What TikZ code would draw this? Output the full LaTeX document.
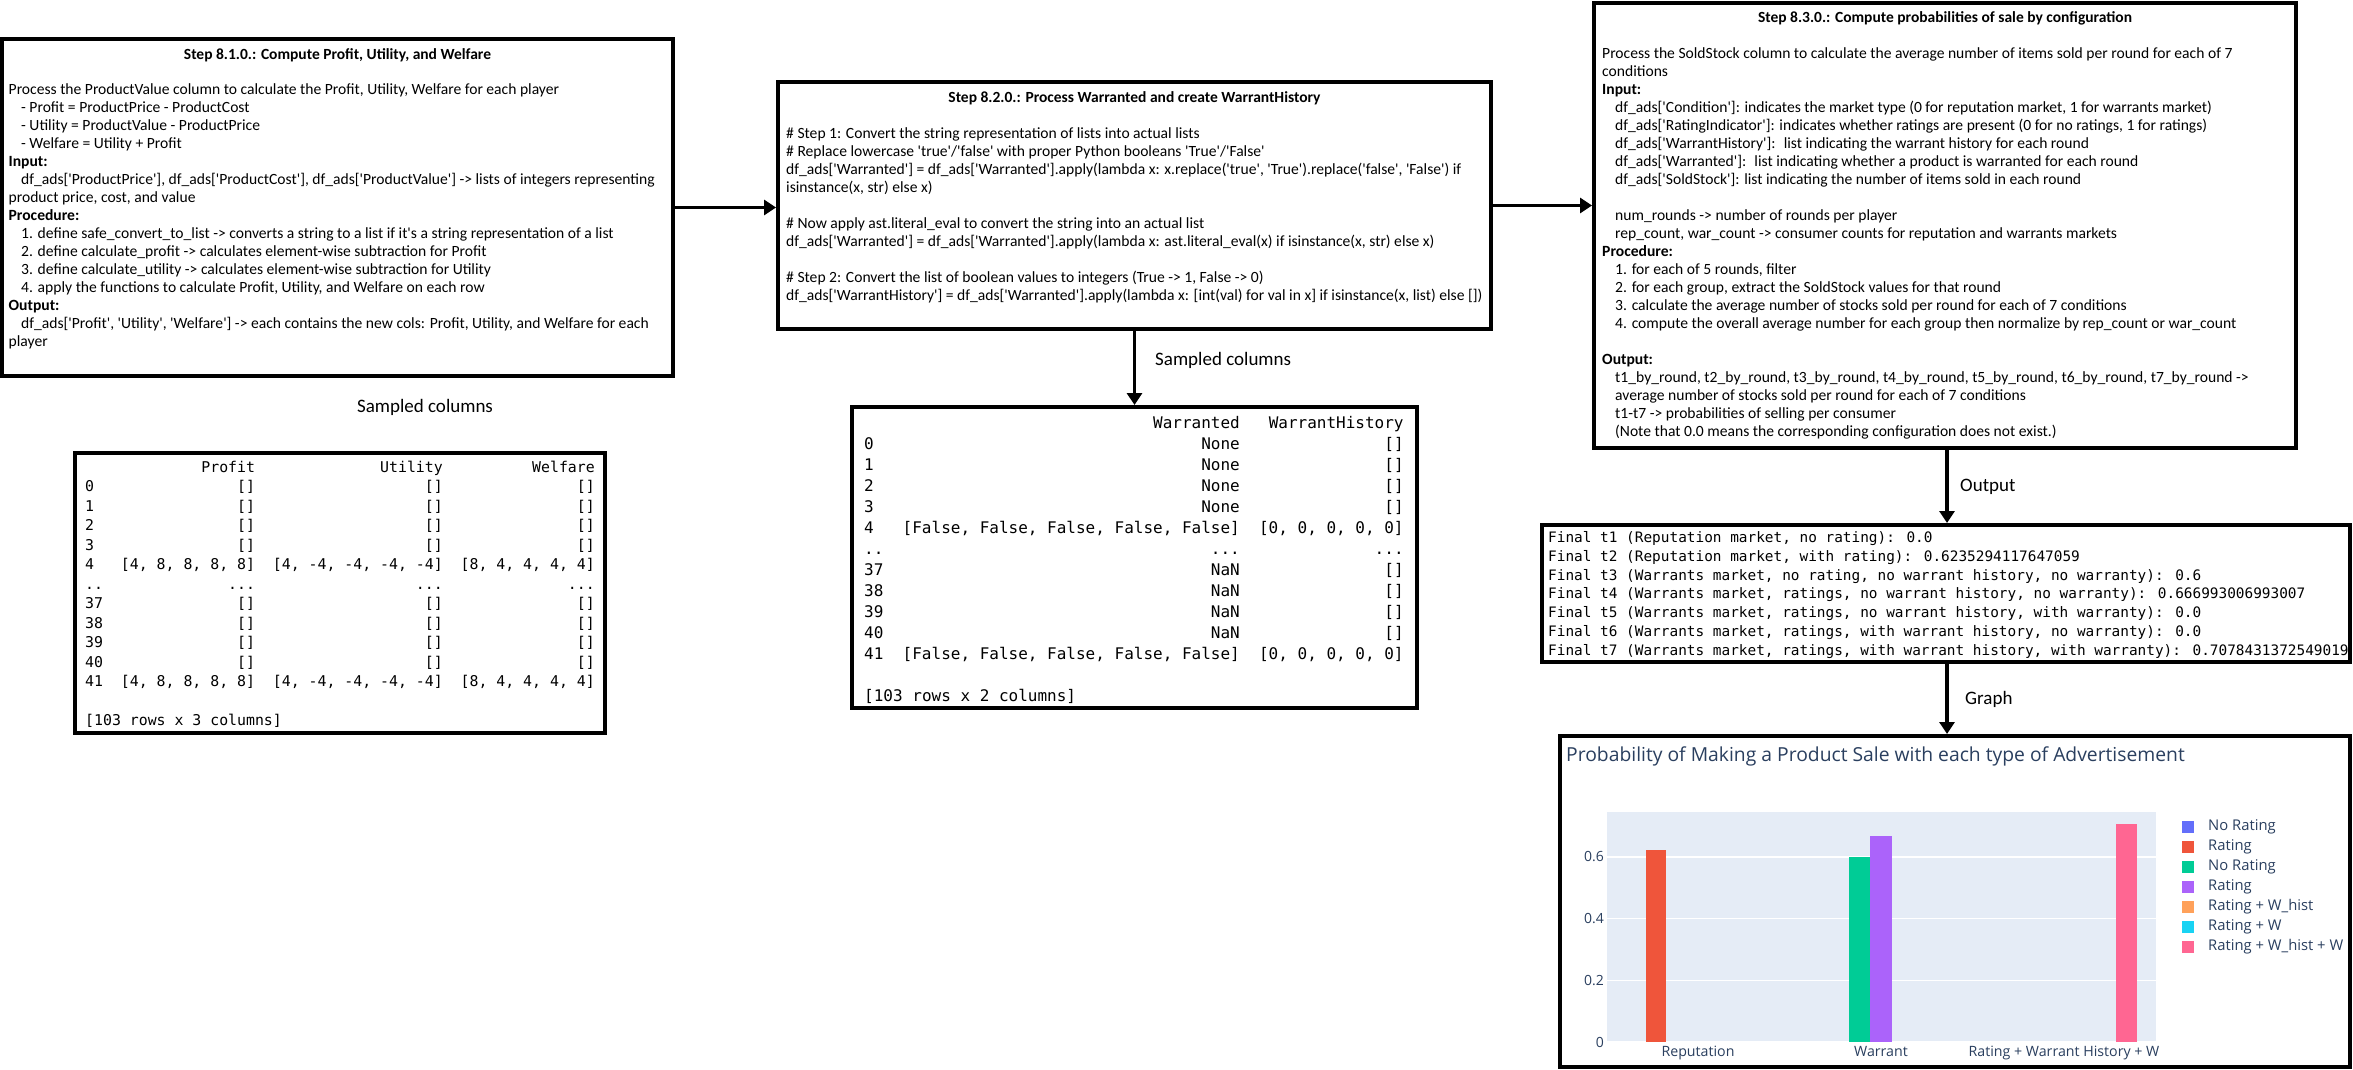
\documentclass[tikz,border=0pt]{standalone}
\usepackage{fontspec}
\setmainfont{Carlito}
\newfontfamily\boxfont{Carlito}
\newfontfamily\monofont{DejaVu Sans Mono}
\newfontfamily\plotfont{Open Sans}
\usetikzlibrary{arrows.meta}
\definecolor{plotbg}{HTML}{E5ECF6}
\definecolor{plottxt}{HTML}{2A3F5F}
\definecolor{cblue}{HTML}{636EFA}
\definecolor{cred}{HTML}{EF553B}
\definecolor{cgreen}{HTML}{00CC96}
\definecolor{cpurple}{HTML}{AB63FA}
\definecolor{corange}{HTML}{FFA15A}
\definecolor{ccyan}{HTML}{19D3F3}
\definecolor{cpink}{HTML}{FF6692}
\newcommand\sq{\textquotesingle}
\tikzset{
  box/.style={draw=black, line width=4pt, rectangle, inner sep=0pt},
  boxtitle/.style={anchor=base, inner sep=0pt, font=\boxfont\bfseries\fontsize{15.5}{18}\selectfont},
  boxbody/.style={anchor=base west, inner sep=0pt, font=\boxfont\fontsize{15.6}{18}\selectfont},
  lbl/.style={inner sep=0pt, font=\boxfont\fontsize{19}{22}\selectfont},
  arr/.style={line width=3.5pt, -{Triangle[length=12pt,width=15pt]}},
  tabA/.style={anchor=base west, inner sep=0pt, font=\monofont\fontsize{14.85}{19.5}\selectfont},
  tabB/.style={anchor=base west, inner sep=0pt, font=\monofont\fontsize{16}{21}\selectfont},
  tabC/.style={anchor=base west, inner sep=0pt, font=\monofont\fontsize{14.4}{18.8}\selectfont},
  ptitle/.style={anchor=base west, inner sep=0pt, text=plottxt, font=\plotfont\fontsize{19.3}{22}\selectfont},
  ptick/.style={anchor=east, inner sep=0pt, text=plottxt, font=\plotfont\fontsize{14}{16}\selectfont},
  pcat/.style={anchor=base, inner sep=0pt, text=plottxt, font=\plotfont\fontsize{14.2}{16}\selectfont},
  pleg/.style={anchor=west, inner sep=0pt, text=plottxt, font=\plotfont\fontsize{14.8}{16}\selectfont},
  grid/.style={white, line width=1.2pt}
}
\begin{document}
\begin{tikzpicture}[x=1pt,y=-1pt]
\fill[white] (0,0) rectangle (2353,1070);
\path[use as bounding box] (0,0) rectangle (2353,1070);

% ---------- Box 1 ----------
\node[box, minimum width=671pt, minimum height=337pt] (b1) at (337.5,207.5) {};
\node[boxtitle] (b1t) at (337.5,60) {Step 8.1.0.: Compute Profit, Utility, and Welfare};
\node[boxbody] (b1body) at (8.5,95) {\begin{tabular}[t]{@{}l@{}}
Process the ProductValue column to calculate the Profit, Utility, Welfare for each player\\
\hspace*{12.5pt}- Profit = ProductPrice - ProductCost\\
\hspace*{12.5pt}- Utility = ProductValue - ProductPrice\\
\hspace*{12.5pt}- Welfare = Utility + Profit\\
\textbf{Input:}\\
\hspace*{12.5pt}df\_ads[\sq ProductPrice\sq], df\_ads[\sq ProductCost\sq], df\_ads[\sq ProductValue\sq] -> lists of integers representing\\
product price, cost, and value\\
\textbf{Procedure:}\\
\hspace*{12.5pt}1. define safe\_convert\_to\_list -> converts a string to a list if it\sq s a string representation of a list\\
\hspace*{12.5pt}2. define calculate\_profit -> calculates element-wise subtraction for Profit\\
\hspace*{12.5pt}3. define calculate\_utility -> calculates element-wise subtraction for Utility\\
\hspace*{12.5pt}4. apply the functions to calculate Profit, Utility, and Welfare on each row\\
\textbf{Output:}\\
\hspace*{12.5pt}df\_ads[\sq Profit\sq, \sq Utility\sq, \sq Welfare\sq] -> each contains the new cols: Profit, Utility, and Welfare for each\\
player
\end{tabular}};

% ---------- Box 2 ----------
\node[box, minimum width=713pt, minimum height=247pt] (b2) at (1134.5,205.5) {};
\node[boxtitle] (b2t) at (1134.5,103) {Step 8.2.0.: Process Warranted and create WarrantHistory};
\node[boxbody] (b2body) at (786,139) {\begin{tabular}[t]{@{}l@{}}
\# Step 1: Convert the string representation of lists into actual lists\\
\# Replace lowercase \sq true\sq/\sq false\sq{} with proper Python booleans \sq True\sq/\sq False\sq\\
df\_ads[\sq Warranted\sq] = df\_ads[\sq Warranted\sq].apply(lambda x: x.replace(\sq true\sq, \sq True\sq).replace(\sq false\sq, \sq False\sq) if\\
isinstance(x, str) else x)\\
\\
\# Now apply ast.literal\_eval to convert the string into an actual list\\
df\_ads[\sq Warranted\sq] = df\_ads[\sq Warranted\sq].apply(lambda x: ast.literal\_eval(x) if isinstance(x, str) else x)\\
\\
\# Step 2: Convert the list of boolean values to integers (True -> 1, False -> 0)\\
df\_ads[\sq WarrantHistory\sq] = df\_ads[\sq Warranted\sq].apply(lambda x: [int(val) for val in x] if isinstance(x, list) else [])
\end{tabular}};

% ---------- Box 3 ----------
\node[box, minimum width=702pt, minimum height=445pt] (b3) at (1945,225.5) {};
\node[boxtitle] (b3t) at (1945,23) {Step 8.3.0.: Compute probabilities of sale by configuration};
\node[boxbody] (b3body) at (1602,59) {\begin{tabular}[t]{@{}l@{}}
Process the SoldStock column to calculate the average number of items sold per round for each of 7\\
conditions\\
\textbf{Input:}\\
\hspace*{13pt}df\_ads[\sq Condition\sq]: indicates the market type (0 for reputation market, 1 for warrants market)\\
\hspace*{13pt}df\_ads[\sq RatingIndicator\sq]: indicates whether ratings are present (0 for no ratings, 1 for ratings)\\
\hspace*{13pt}df\_ads[\sq WarrantHistory\sq]:~ list indicating the warrant history for each round\\
\hspace*{13pt}df\_ads[\sq Warranted\sq]:~ list indicating whether a product is warranted for each round\\
\hspace*{13pt}df\_ads[\sq SoldStock\sq]: list indicating the number of items sold in each round\\
\\
\hspace*{13pt}num\_rounds -> number of rounds per player\\
\hspace*{13pt}rep\_count, war\_count -> consumer counts for reputation and warrants markets\\
\textbf{Procedure:}\\
\hspace*{13pt}1. for each of 5 rounds, filter\\
\hspace*{13pt}2. for each group, extract the SoldStock values for that round\\
\hspace*{13pt}3. calculate the average number of stocks sold per round for each of 7 conditions\\
\hspace*{13pt}4. compute the overall average number for each group then normalize by rep\_count or war\_count\\
\\
\textbf{Output:}\\
\hspace*{13pt}t1\_by\_round, t2\_by\_round, t3\_by\_round, t4\_by\_round, t5\_by\_round, t6\_by\_round, t7\_by\_round ->\\
\hspace*{13pt}average number of stocks sold per round for each of 7 conditions\\
\hspace*{13pt}t1-t7 -> probabilities of selling per consumer\\
\hspace*{13pt}(Note that 0.0 means the corresponding configuration does not exist.)
\end{tabular}};

% ---------- Table 1 ----------
\node[lbl] (sc1) at (425,407) {Sampled columns};
\node[box, minimum width=530pt, minimum height=280pt] (t1) at (340,593) {};
\node[tabA] (t1body) at (85,472) {\setlength\tabcolsep{8.94pt}\begin{tabular}[t]{@{}lrrr@{}}
 & Profit & Utility & Welfare\\
0 & [] & [] & []\\
1 & [] & [] & []\\
2 & [] & [] & []\\
3 & [] & [] & []\\
4 & [4, 8, 8, 8, 8] & [4, -4, -4, -4, -4] & [8, 4, 4, 4, 4]\\
.. & ... & ... & ...\\
37 & [] & [] & []\\
38 & [] & [] & []\\
39 & [] & [] & []\\
40 & [] & [] & []\\
41 & [4, 8, 8, 8, 8] & [4, -4, -4, -4, -4] & [8, 4, 4, 4, 4]\\
\\
\multicolumn{4}{@{}l}{[103 rows x 3 columns]}
\end{tabular}};

% ---------- Table 2 ----------
\node[box, minimum width=565pt, minimum height=301pt] (t2) at (1134.5,557.5) {};
\node[tabB] (t2body) at (864,428.5) {\setlength\tabcolsep{9.63pt}\begin{tabular}[t]{@{}lrr@{}}
 & Warranted & WarrantHistory\\
0 & None & []\\
1 & None & []\\
2 & None & []\\
3 & None & []\\
4 & [False, False, False, False, False] & [0, 0, 0, 0, 0]\\
.. & ... & ...\\
37 & NaN & []\\
38 & NaN & []\\
39 & NaN & []\\
40 & NaN & []\\
41 & [False, False, False, False, False] & [0, 0, 0, 0, 0]\\
\\
\multicolumn{3}{@{}l}{[103 rows x 2 columns]}
\end{tabular}};

% ---------- Output box ----------
\node[box, minimum width=808pt, minimum height=137pt] (out) at (1946,593.5) {};
\node[tabC] (outbody) at (1548,542.5) {\begin{tabular}[t]{@{}l@{}}
Final t1 (Reputation market, no rating): 0.0\\
Final t2 (Reputation market, with rating): 0.6235294117647059\\
Final t3 (Warrants market, no rating, no warrant history, no warranty): 0.6\\
Final t4 (Warrants market, ratings, no warrant history, no warranty): 0.666993006993007\\
Final t5 (Warrants market, ratings, no warrant history, with warranty): 0.0\\
Final t6 (Warrants market, ratings, with warrant history, no warranty): 0.0\\
Final t7 (Warrants market, ratings, with warrant history, with warranty): 0.7078431372549019
\end{tabular}};

% ---------- Chart box ----------
\node[box, minimum width=790pt, minimum height=331pt] (chart) at (1955,901.5) {};
\node[ptitle] (ctitle) at (1566,761) {Probability of Making a Product Sale with each type of Advertisement};
\fill[plotbg] (1607,812) rectangle (2156,1042);
\draw[grid] (1607,980.3) -- (2156,980.3);
\draw[grid] (1607,918.7) -- (2156,918.7);
\draw[grid] (1607,857) -- (2156,857);
\draw[white, line width=2pt] (1607,1042) -- (2156,1042);
\node[ptick] (y0) at (1604,1042) {0};
\node[ptick] (y2) at (1604,980.3) {0.2};
\node[ptick] (y4) at (1604,918.7) {0.4};
\node[ptick] (y6) at (1604,857) {0.6};
\fill[cred] (1646,849.8) rectangle (1666,1042);
\fill[cgreen] (1849,857) rectangle (1870,1042);
\fill[cpurple] (1870,836.4) rectangle (1892,1042);
\fill[cpink] (2116,823.8) rectangle (2137,1042);
\node[pcat] (xrep) at (1698,1056) {Reputation};
\node[pcat] (xwar) at (1881,1056) {Warrant};
\node[pcat] (xrw) at (2064,1056) {Rating + Warrant History + W};
\foreach \i/\c/\t in {0/cblue/No Rating,1/cred/Rating,2/cgreen/No Rating,3/cpurple/Rating,4/corange/Rating + W\_hist,5/ccyan/Rating + W,6/cpink/Rating + W\_hist + W}{
  \fill[\c] (2182,821+20*\i) rectangle (2194,833+20*\i);
  \node[pleg] (leg\i) at (2208,827+20*\i) {\t};
}

% ---------- Connectors ----------
\draw[arr] (b1.east) -- (b1.east -| b2.west);
\draw[arr] (b2.east) -- (b2.east -| b3.west);
\draw[arr] (b2.south) -- (t2.north);
\node[lbl, anchor=west] (sc2) at (1155,360) {Sampled columns};
\coordinate (c3) at (1947,448);
\draw[arr] (c3) -- (c3 |- out.north);
\node[lbl, anchor=west] (lout) at (1960,487) {Output};
\coordinate (c4) at (1947,662);
\draw[arr] (c4) -- (c4 |- chart.north);
\node[lbl, anchor=west] (lgraph) at (1965,699) {Graph};
\end{tikzpicture}
\end{document}
